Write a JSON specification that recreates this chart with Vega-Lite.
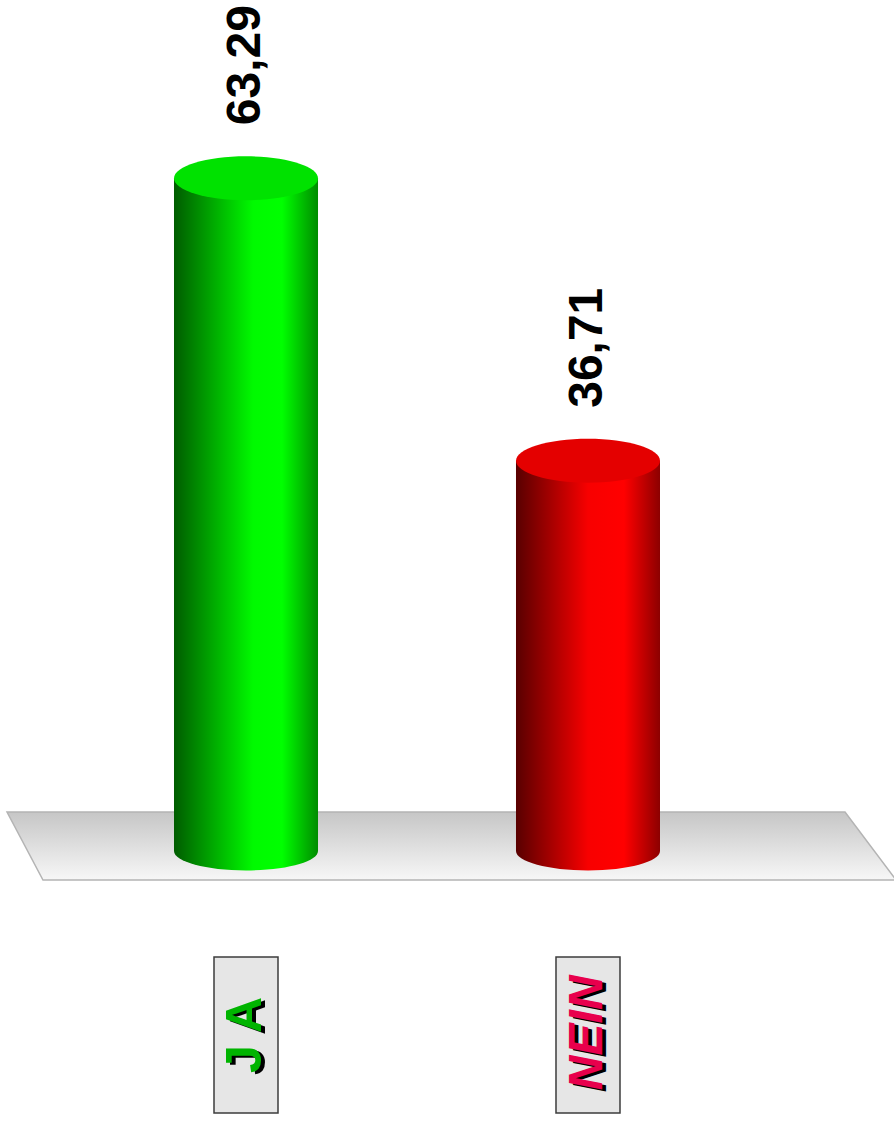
{
  "$schema": "https://vega.github.io/schema/vega-lite/v6.json",
  "width": 894,
  "height": 1124,
  "padding": 0,
  "autosize": {"type": "none"},
  "background": "white",
  "config": {
    "view": {"stroke": null},
    "locale": {"number": {"decimal": ",", "thousands": ".", "grouping": [3], "currency": ["", " €"]}}
  },
  "datasets": {
    "votes": [
      {"answer": "JA", "percent": 63.29},
      {"answer": "NEIN", "percent": 36.71}
    ],
    "floor": [
      {"fx": 0.3012, "top": 3.67, "bottom": 3.67},
      {"fx": 0.4064, "top": 3.67, "bottom": -2.73},
      {"fx": 2.7515, "top": 3.67, "bottom": -2.73},
      {"fx": 2.9006, "top": -2.73, "bottom": -2.73}
    ]
  },
  "resolve": {"scale": {"x": "independent"}},
  "encoding": {
    "y": {"type": "quantitative", "scale": {"domain": [-25.68, 80.06], "nice": false, "zero": false}, "axis": null}
  },
  "layer": [
    {
      "data": {"name": "floor"},
      "mark": {
        "type": "area",
        "fill": {"gradient": "linear", "x1": 0, "y1": 0, "x2": 0, "y2": 1, "stops": [{"offset": 0, "color": "#c6c6c6"}, {"offset": 1, "color": "#f7f7f7"}]},
        "stroke": "#b4b4b4",
        "strokeWidth": 1.5,
        "opacity": 1
      },
      "encoding": {
        "x": {"field": "fx", "type": "quantitative", "scale": {"domain": [0.2807, 2.8947], "nice": false, "zero": false}, "axis": null},
        "y": {"field": "top", "type": "quantitative"},
        "y2": {"field": "bottom"}
      }
    },
    {
      "data": {"name": "votes"},
      "layer": [
        {
          "transform": [{"filter": "datum.answer === 'JA'"}],
          "mark": {
            "type": "point", "filled": true, "opacity": 1, "strokeWidth": 0,
            "shape": "M -1 0 A 1 0.27 0 1 0 1 0 A 1 0.27 0 1 0 -1 0 Z",
            "size": 20736,
            "fill": {"gradient": "linear", "x1": 0, "y1": 0, "x2": 1, "y2": 0, "stops": [{"offset": 0, "color": "#005c00"}, {"offset": 0.55, "color": "#00fa00"}, {"offset": 0.75, "color": "#00ff00"}, {"offset": 1, "color": "#008c00"}]}
          },
          "encoding": {"y": {"datum": 0}}
        },
        {
          "transform": [{"filter": "datum.answer === 'NEIN'"}],
          "mark": {
            "type": "point", "filled": true, "opacity": 1, "strokeWidth": 0,
            "shape": "M -1 0 A 1 0.27 0 1 0 1 0 A 1 0.27 0 1 0 -1 0 Z",
            "size": 20736,
            "fill": {"gradient": "linear", "x1": 0, "y1": 0, "x2": 1, "y2": 0, "stops": [{"offset": 0, "color": "#580000"}, {"offset": 0.5, "color": "#f80000"}, {"offset": 0.75, "color": "#ff0000"}, {"offset": 1, "color": "#8c0000"}]}
          },
          "encoding": {"y": {"datum": 0}}
        },
        {
          "transform": [{"filter": "datum.answer === 'JA'"}],
          "mark": {
            "type": "bar",
            "fill": {"gradient": "linear", "x1": 0, "y1": 0, "x2": 1, "y2": 0, "stops": [{"offset": 0, "color": "#005c00"}, {"offset": 0.55, "color": "#00fa00"}, {"offset": 0.75, "color": "#00ff00"}, {"offset": 1, "color": "#008c00"}]}
          },
          "encoding": {"y": {"field": "percent"}, "y2": {"datum": 0}}
        },
        {
          "transform": [{"filter": "datum.answer === 'NEIN'"}],
          "mark": {
            "type": "bar",
            "fill": {"gradient": "linear", "x1": 0, "y1": 0, "x2": 1, "y2": 0, "stops": [{"offset": 0, "color": "#580000"}, {"offset": 0.5, "color": "#f80000"}, {"offset": 0.75, "color": "#ff0000"}, {"offset": 1, "color": "#8c0000"}]}
          },
          "encoding": {"y": {"field": "percent"}, "y2": {"datum": 0}}
        },
        {
          "mark": {
            "type": "point", "filled": true, "opacity": 1, "strokeWidth": 0,
            "shape": "M -1 0 A 1 0.305 0 1 0 1 0 A 1 0.305 0 1 0 -1 0 Z",
            "size": 20736
          },
          "encoding": {
            "y": {"field": "percent"},
            "color": {"field": "answer", "type": "nominal", "scale": {"domain": ["JA", "NEIN"], "range": ["#00e200", "#e40000"]}, "legend": null}
          }
        },
        {
          "mark": {"type": "text", "angle": 270, "align": "left", "baseline": "middle", "dx": 53, "font": "Liberation Sans", "fontSize": 48, "fontWeight": "bold", "fill": "#000000"},
          "encoding": {
            "y": {"field": "percent"},
            "text": {"field": "percent", "type": "quantitative", "format": ".2f"}
          }
        },
        {
          "mark": {"type": "bar", "size": 64, "fill": "#e6e6e6", "stroke": "#3c3c3c", "strokeWidth": 1.5},
          "encoding": {"y": {"datum": -9.97}, "y2": {"datum": -24.65}}
        },
        {
          "transform": [{"filter": "datum.answer === 'JA'"}],
          "layer": [
            {
              "mark": {"type": "text", "angle": 270, "align": "center", "baseline": "middle", "dx": -2, "dy": 4, "font": "Liberation Sans", "fontSize": 50, "fontWeight": "bold", "fill": "#000000", "text": "J A"},
              "encoding": {"y": {"datum": -17.3}}
            },
            {
              "mark": {"type": "text", "angle": 270, "align": "center", "baseline": "middle", "dx": 0, "dy": 0, "font": "Liberation Sans", "fontSize": 50, "fontWeight": "bold", "fill": "#00b400", "text": "J A"},
              "encoding": {"y": {"datum": -17.3}}
            }
          ]
        },
        {
          "transform": [{"filter": "datum.answer === 'NEIN'"}],
          "layer": [
            {
              "mark": {"type": "text", "angle": 270, "align": "center", "baseline": "middle", "dx": -2, "dy": 4, "font": "Liberation Sans", "fontSize": 48, "fontWeight": "bold", "fontStyle": "italic", "fill": "#000000", "text": "NEIN"},
              "encoding": {"y": {"datum": -17.1}}
            },
            {
              "mark": {"type": "text", "angle": 270, "align": "center", "baseline": "middle", "font": "Liberation Sans", "fontSize": 48, "fontWeight": "bold", "fontStyle": "italic", "fill": "#e8004c", "text": "NEIN"},
              "encoding": {"y": {"datum": -17.1}}
            }
          ]
        }
      ],
      "encoding": {
        "x": {
          "field": "answer", "type": "nominal", "axis": null,
          "scale": {"domain": ["JA", "NEIN"], "range": [3, 831], "paddingInner": 0.5789, "paddingOuter": 0.5}
        }
      }
    }
  ]
}
